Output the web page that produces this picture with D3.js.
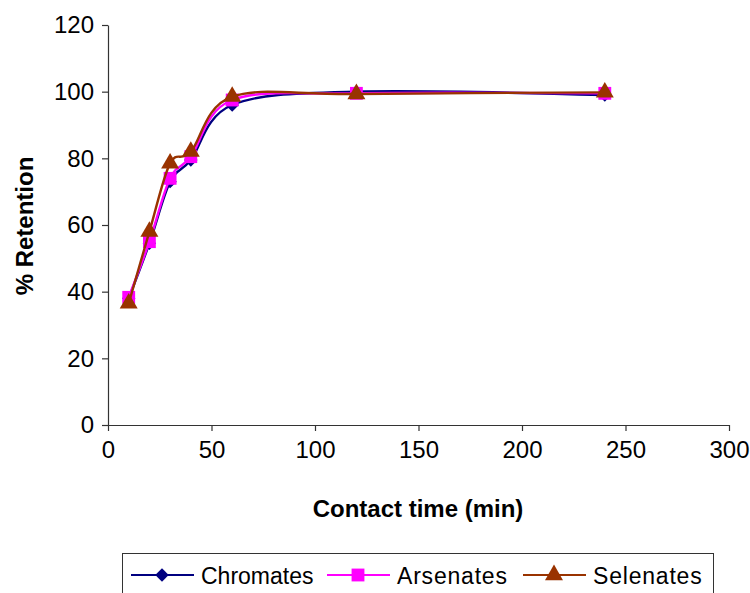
<!DOCTYPE html>
<html><head><meta charset="utf-8">
<script src="https://cdn.jsdelivr.net/npm/d3@7"></script>
<style>body{margin:0;background:#fff;}svg{display:block;font-family:"Liberation Sans",Arial,sans-serif;}</style>
</head><body>
<svg id="c" width="750" height="593"></svg>
<script>
const times = [10, 20, 30, 40, 60, 120, 240];
const chromates = [38, 54.5, 73, 79.5, 96, 100, 99];
const arsenates = [38.3, 55, 74, 80.5, 97.5, 99.5, 99.5];
const selenates = [36.5, 58, 78.5, 82, 98.5, 99.3, 99.8];
const seriesNames = ["Chromates", "Arsenates", "Selenates"];
const xTicks = [0, 50, 100, 150, 200, 250, 300];
const yTicks = [0, 20, 40, 60, 80, 100, 120];

const svg = d3.select("#c");
const x = d3.scaleLinear().domain([0, 300]).range([108, 729]);
const y = d3.scaleLinear().domain([0, 120]).range([425, 25]);

const diamond = {draw(ctx, size) {
  const r = Math.sqrt(size / 2);
  ctx.moveTo(0, -r); ctx.lineTo(r, 0); ctx.lineTo(0, r); ctx.lineTo(-r, 0); ctx.closePath();
}};

const series = [
  {name: seriesNames[0], values: chromates, color: "#000080", sym: diamond, size: 90},
  {name: seriesNames[1], values: arsenates, color: "#FF00FF", sym: d3.symbolSquare, size: 165},
  {name: seriesNames[2], values: selenates, color: "#993300", sym: d3.symbolTriangle, size: 140}
];

// axes
const xAxis = svg.append("g").attr("transform", `translate(0,${y(0)})`)
  .call(d3.axisBottom(x).tickValues(xTicks).tickSize(6).tickSizeOuter(0).tickPadding(10));
const yAxis = svg.append("g").attr("transform", `translate(${x(0)},0)`)
  .call(d3.axisLeft(y).tickValues(yTicks).tickSize(6).tickSizeOuter(0).tickPadding(8));
[xAxis, yAxis].forEach(a => {
  a.selectAll("path,line").attr("stroke", "#333").attr("stroke-width", 1.2);
  a.selectAll("text").attr("font-size", 24).attr("fill", "#000")
    .attr("font-family", '"Liberation Sans",Arial,sans-serif');
});

// titles
svg.append("text").attr("x", 418).attr("y", 517).attr("text-anchor", "middle")
  .attr("font-size", 24).attr("font-weight", "bold").text("Contact time (min)");
svg.append("text").attr("transform", `translate(33,226) rotate(-90)`).attr("text-anchor", "middle")
  .attr("font-size", 24).attr("font-weight", "bold").text("% Retention");

// lines and markers
const line = d3.line().x((d, i) => x(times[i])).y(d => y(d)).curve(d3.curveCardinal.tension(0));
series.forEach(s => {
  const g = svg.append("g");
  g.append("path").attr("d", line(s.values)).attr("fill", "none")
    .attr("stroke", s.color).attr("stroke-width", 2.4);
  g.selectAll("path.m").data(s.values).enter().append("path").attr("class", "m")
    .attr("d", d3.symbol().type(s.sym).size(s.size))
    .attr("transform", (d, i) => `translate(${x(times[i])},${y(d)})`)
    .attr("fill", s.color);
});

// legend
const lg = svg.append("g");
lg.append("rect").attr("x", 122.5).attr("y", 553.5).attr("width", 591).attr("height", 50)
  .attr("fill", "#fff").attr("stroke", "#333").attr("stroke-width", 1);
const legX = [131, 327, 523];
series.forEach((s, i) => {
  const gx = legX[i];
  lg.append("line").attr("x1", gx).attr("x2", gx + 63).attr("y1", 575).attr("y2", 575)
    .attr("stroke", s.color).attr("stroke-width", 2);
  lg.append("path").attr("d", d3.symbol().type(s.sym).size(s.size))
    .attr("transform", `translate(${gx + 31},575)`).attr("fill", s.color);
  lg.append("text").attr("x", gx + 70).attr("y", 584).attr("font-size", 23)
    .attr("letter-spacing", i === 0 ? 0 : 0.8).text(s.name);
});
</script>
</body></html>
